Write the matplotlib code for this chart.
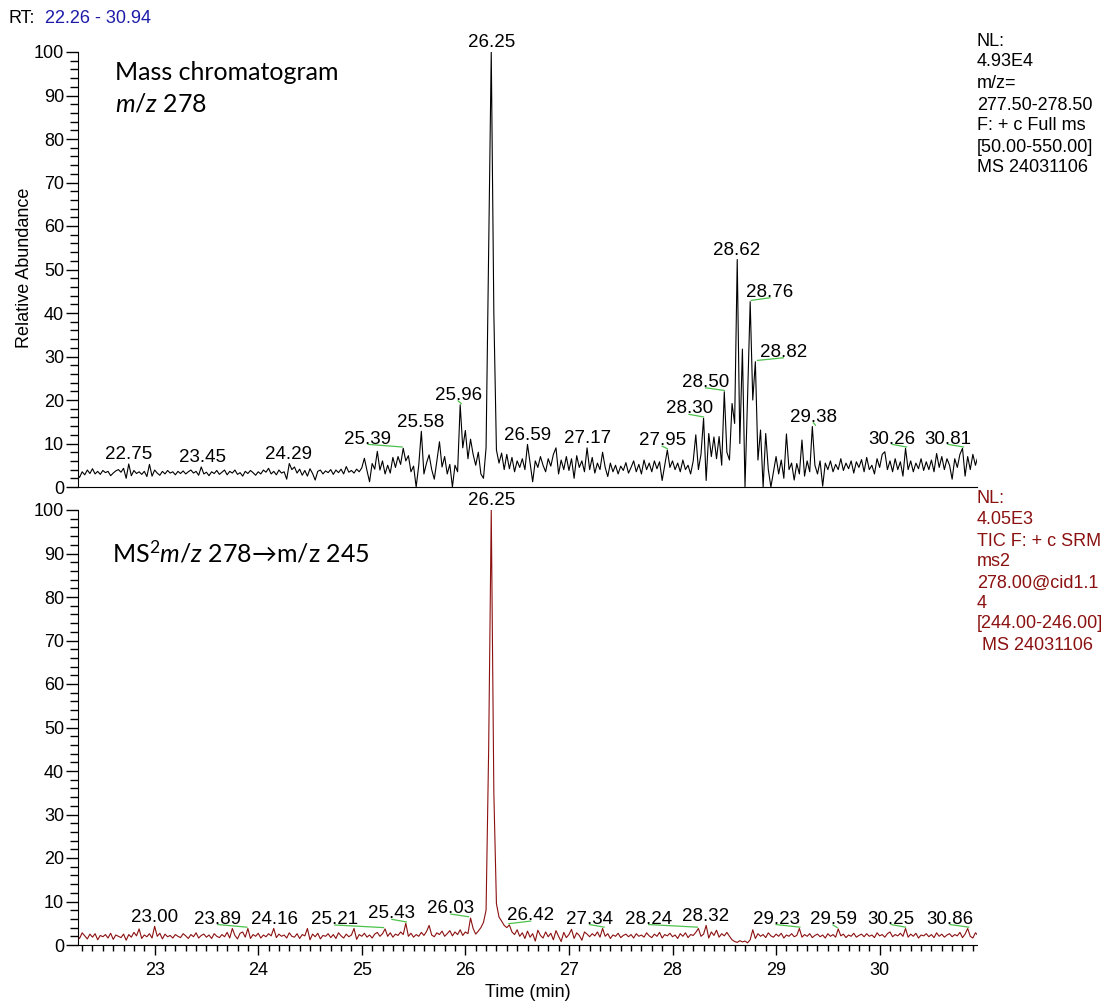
import numpy as np
import matplotlib
matplotlib.use("Agg")
import matplotlib.pyplot as plt
from matplotlib.ticker import MultipleLocator

plt.rcParams["font.family"] = ["Liberation Sans", "DejaVu Sans"]
plt.rcParams["mathtext.fontset"] = "custom"
plt.rcParams["mathtext.rm"] = "Lato"
plt.rcParams["mathtext.it"] = "Lato:italic"

# scan grid of the two traces (min)
T_START = 22.25
T_STEP = 0.025

# relative abundance, m/z 278 full scan (upper trace)
upper_vals = [
    3.0, 2.2, 3.5, 2.8, 3.9, 3.1, 4.2, 3.0, 3.6, 2.9,
    3.8, 3.3, 3.6, 2.6, 3.2, 3.7, 4.0, 3.4, 4.3, 2.0,
    5.3, 2.6, 3.8, 3.1, 3.5, 2.9, 3.6, 2.4, 5.2, 2.5,
    3.9, 3.2, 2.7, 3.6, 3.0, 3.8, 3.2, 3.5, 2.8, 3.6,
    3.1, 3.7, 3.0, 3.5, 3.9, 3.2, 3.6, 2.7, 4.6, 3.0,
    3.4, 2.6, 3.5, 3.1, 3.8, 2.9, 3.4, 3.9, 2.8, 3.6,
    3.2, 3.9, 2.9, 3.3, 2.5, 3.6, 3.1, 3.8, 3.3, 2.7,
    3.5, 3.0, 3.9, 3.4, 4.3, 3.0, 3.6, 2.8, 3.9, 3.2,
    3.5, 1.8, 5.4, 4.0, 4.6, 3.2, 4.1, 2.7, 3.8, 2.5,
    4.2, 3.1, 1.6, 3.6, 3.9, 3.0, 3.7, 3.3, 4.0, 2.9,
    3.9, 3.3, 4.1, 3.0, 4.7, 3.4, 3.8, 3.2, 4.1, 3.5,
    4.4, 6.6, 3.8, 1.2, 5.4, 4.1, 8.2, 3.9, 6.0, 3.0,
    5.0, 3.2, 6.8, 4.5, 7.0, 5.2, 8.9, 6.0, 7.2, 3.5,
    4.8, 0.0, 5.0, 12.8, 3.0, 5.5, 7.4, 4.0, 1.8, 6.0,
    10.4, 4.6, 7.0, 3.0, 5.2, 0.0, 5.0, 3.5, 18.9, 9.0,
    13.0, 6.5, 11.0, 7.5, 5.0, 8.0, 3.0, 2.0, 9.0, 55.0,
    100.0, 40.0, 8.5, 5.5, 7.8, 4.0, 7.5, 4.2, 6.8, 3.5,
    6.0, 4.5, 6.5, 4.0, 9.8, 5.5, 1.2, 6.0, 4.5, 7.0,
    5.0, 3.5, 6.5, 4.8, 7.5, 9.0, 3.0, 6.2, 4.0, 7.0,
    3.8, 6.5, 2.0, 7.2, 4.5, 6.0, 3.5, 9.0, 4.0, 6.8,
    3.2, 5.5, 4.0, 8.0, 4.5, 2.4, 5.5, 3.5, 5.0, 3.0,
    4.8, 3.8, 5.6, 3.2, 4.5, 6.0, 3.5, 5.2, 3.0, 6.2,
    4.0, 5.5, 3.5, 6.0, 4.2, 5.8, 1.5, 5.0, 8.5, 4.5,
    6.0, 4.0, 5.5, 3.5, 6.2, 4.0, 5.0, 3.0, 6.0, 12.0,
    4.0, 7.5, 15.8, 1.5, 12.3, 7.0, 11.5, 6.5, 11.6, 5.0,
    21.9, 8.0, 6.2, 19.2, 14.6, 52.3, 10.0, 31.7, 0.0, 20.8,
    42.6, 20.0, 28.8, 6.2, 13.1, 0.0, 12.3, 4.0, 0.0, 3.5,
    7.0, 3.0, 6.2, 2.0, 12.2, 4.0, 5.5, 1.6, 5.4, 3.0,
    10.8, 2.5, 6.0, 3.5, 13.9, 5.0, 3.0, 6.0, 0.2, 5.5,
    4.0, 6.0, 3.5, 5.2, 4.0, 6.5, 3.8, 5.5, 4.2, 6.0,
    3.2, 5.8, 4.5, 6.3, 3.5, 6.8, 4.0, 5.0, 3.0, 6.5,
    4.5, 7.5, 8.1, 4.0, 6.0, 3.5, 6.5, 4.0, 5.8, 2.5,
    8.9, 4.0, 6.0, 3.5, 5.5, 4.2, 6.5, 3.8, 5.8, 4.0,
    6.2, 3.5, 7.7, 4.5, 7.0, 4.0, 6.5, 5.0, 1.8, 6.5,
    4.5, 7.5, 8.9, 2.5, 7.0, 4.0, 7.5, 5.0, 7.1,
]

# relative abundance, SRM 278 -> 245 (lower trace)
lower_vals = [
    2.0, 1.5, 2.8, 2.1, 1.4, 2.5, 1.8, 2.6, 1.2, 2.2,
    1.9, 2.4, 1.6, 2.7, 1.3, 2.3, 2.0, 1.7, 2.5, 1.1,
    2.4, 1.8, 2.9, 2.1, 3.7, 1.5, 2.3, 1.9, 2.6, 1.6,
    4.3, 2.0, 2.7, 1.4, 2.5, 1.9, 2.2, 1.6, 2.4, 2.0,
    1.7, 2.6, 2.1, 1.5, 2.4, 1.9, 2.8, 1.6, 2.2, 2.5,
    1.8, 2.3, 1.5, 2.6, 2.0, 1.7, 2.4, 1.9, 2.9, 1.6,
    3.8, 2.2, 1.4, 2.7, 3.0, 1.8, 3.8, 1.5, 2.4, 2.0,
    2.7, 1.6, 2.3, 1.9, 2.6, 2.1, 3.8, 1.7, 2.5, 2.0,
    2.3, 1.6, 2.8, 2.0, 1.8, 2.6, 1.5, 2.4, 2.1, 3.8,
    1.2, 2.5, 1.9, 2.7, 1.4, 2.2, 2.0, 2.6, 1.7, 2.4,
    1.5, 2.8, 2.1, 1.6, 2.5, 1.9, 2.3, 3.8, 1.3, 2.4,
    2.0, 2.7, 1.8, 2.3, 1.6, 2.5, 2.9, 2.0, 2.6, 3.7,
    2.0, 2.8, 1.8, 2.5, 2.2, 3.0, 2.4, 5.0, 2.0, 2.7,
    1.8, 2.4, 2.0, 2.9, 2.2, 3.1, 4.5, 2.3, 1.9, 2.8,
    2.4, 3.2, 2.0, 2.6, 3.3, 2.1, 3.0, 2.4, 3.5, 2.2,
    3.0, 2.6, 6.2, 3.8, 2.5, 3.2, 4.0, 5.2, 8.0, 45.0,
    100.0, 35.0, 9.5, 6.4, 5.5, 4.5, 4.0, 4.6, 3.0, 2.4,
    3.5, 2.0, 2.8, 1.5, 3.2, 1.8, 2.6, 0.9, 3.4, 2.2,
    1.6, 3.0, 1.9, 2.7, 1.2, 3.3, 2.0, 0.8, 2.9, 1.7,
    2.4, 3.6, 1.5, 2.8, 2.2, 1.1, 3.0, 2.5, 1.9, 2.6,
    2.1, 3.0, 1.8, 3.8, 2.0, 2.6, 1.5, 2.3, 2.0, 2.7,
    1.7, 2.2, 2.5, 1.9, 2.4, 1.6, 2.6, 2.0, 2.3, 1.8,
    2.8, 2.1, 1.7, 2.5, 2.0, 2.9, 1.6, 2.4, 2.1, 2.7,
    1.9, 2.3, 1.5, 2.6, 2.0, 2.8, 1.7, 2.4, 2.2, 2.9,
    3.8, 2.0, 2.5, 4.5, 1.6, 3.0, 2.2, 3.4, 1.8, 2.6,
    2.1, 2.9, 2.0, 1.2, 0.8, 0.6, 1.0, 0.7, 0.9, 0.5,
    1.2, 3.5, 1.5, 2.6, 2.0, 2.4, 1.7, 2.8, 2.1, 1.8,
    2.5, 2.0, 2.7, 1.6, 2.3, 2.0, 2.6, 1.9, 2.2, 3.8,
    1.8, 2.4, 2.0, 2.6, 1.7, 2.2, 2.5, 1.9, 2.3, 1.6,
    2.6, 2.0, 2.4, 1.8, 3.7, 2.1, 2.5, 1.7, 2.3, 2.0,
    2.7, 1.8, 2.2, 2.5, 1.9, 2.6, 2.0, 2.3, 1.7, 2.8,
    2.1, 2.4, 1.8, 2.6, 3.0, 1.9, 2.4, 2.1, 2.7, 2.0,
    3.8, 1.8, 2.5, 2.0, 2.7, 1.6, 2.3, 2.1, 2.6, 1.9,
    2.4, 1.7, 2.8, 2.0, 2.5, 1.8, 2.3, 2.6, 1.9, 2.4,
    2.1, 2.9, 1.7, 2.5, 3.8, 2.0, 1.6, 2.8, 2.2,
]

# labelled peaks (retention times as printed)
upper_peaks = ["22.75", "23.45", "24.29", "25.39", "25.58", "25.96", "26.25",
               "26.59", "27.17", "27.95", "28.30", "28.50", "28.62", "28.76",
               "28.82", "29.38", "30.26", "30.81"]
lower_peaks = ["23.00", "23.89", "24.16", "25.21", "25.43", "26.03", "26.25",
               "26.42", "27.34", "28.24", "28.32", "29.23", "29.59", "30.25",
               "30.86"]

# where the label text sits on the time axis (shifted ones get a green leader)
upper_label_x = [22.75, 23.46, 24.29, 25.06, 25.57, 25.93, 26.25, 26.60, 27.18,
                 27.90, 28.16, 28.32, 28.62, 28.94, 29.07, 29.36, 30.12, 30.66]
lower_label_x = [23.00, 23.61, 24.16, 24.74, 25.29, 25.86, 26.25, 26.63, 27.20,
                 27.77, 28.32, 29.00, 29.55, 30.11, 30.68]

upper_info = ["NL:", "4.93E4", "m/z=", "277.50-278.50", "F: + c Full ms",
              "[50.00-550.00]", "MS 24031106"]
upper_info_y = [41, 62, 84, 105, 126, 148, 168]
lower_info = ["NL:", "4.05E3", "TIC F: + c SRM", "ms2", "278.00@cid1.1", "4",
              "[244.00-246.00]", " MS 24031106"]
lower_info_y = [498, 519, 542, 562, 583, 603, 624, 645]

W, H = 1103, 1001
RED = "#8b1010"
GREEN = "#4cc24c"


def fx(px):
    return px / W


def fy(py):
    return 1 - py / H


def style_axis(ax):
    ax.set_xlim(22.26, 30.94)
    ax.set_ylim(0, 100)
    for s in ["top", "right"]:
        ax.spines[s].set_visible(False)
    ax.yaxis.set_major_locator(MultipleLocator(10))
    ax.yaxis.set_minor_locator(MultipleLocator(2))
    ax.tick_params(axis="y", which="major", length=9, width=1, labelsize=13, pad=1)
    ax.tick_params(axis="y", which="minor", length=6, width=1)


def label_peaks(ax, t, y, peaks, label_x):
    for name, lx in zip(peaks, label_x):
        pt = float(name)
        win = np.abs(t - pt) <= 0.03
        top = y[win].max()
        ax.text(lx, top + 1.1, name, ha="center", va="baseline", fontsize=13.5,
                clip_on=False)
        if abs(lx - pt) > 0.015:
            ax.plot([lx, pt], [top + 0.9, top + 0.3], color=GREEN, lw=0.9,
                    clip_on=False)


t = T_START + T_STEP * np.arange(len(upper_vals))
y_up = np.array(upper_vals)
y_lo = np.array(lower_vals)

fig = plt.figure(figsize=(W / 100, H / 100), dpi=100)
ax1 = fig.add_axes([fx(78), fy(487), fx(977) - fx(78), fy(52) - fy(487)])
ax2 = fig.add_axes([fx(78), fy(945), fx(977) - fx(78), fy(510) - fy(945)])

ax1.plot(t, y_up, color="black", lw=0.8)
style_axis(ax1)
ax1.set_xticks([])
label_peaks(ax1, t, y_up, upper_peaks, upper_label_x)

ax2.plot(t, y_lo, color=RED, lw=0.8)
style_axis(ax2)
ax2.xaxis.set_major_locator(MultipleLocator(1))
ax2.xaxis.set_minor_locator(MultipleLocator(0.1))
ax2.tick_params(axis="x", which="major", length=7, width=1, labelsize=13, pad=5)
ax2.tick_params(axis="x", which="minor", length=4, width=1)
ax2.set_xlabel("Time (min)", fontsize=13, labelpad=4)
label_peaks(ax2, t, y_lo, lower_peaks, lower_label_x)

# header and side notes
fig.text(fx(8), fy(18), "RT:", fontsize=13, va="center")
fig.text(fx(45), fy(18), "22.26 - 30.94", fontsize=13, va="center", color="#1c1ca8")
fig.text(fx(25), fy(268), "Relative Abundance", fontsize=13, rotation=90,
         ha="center", va="center")
for s, py in zip(upper_info, upper_info_y):
    fig.text(fx(977), fy(py), s, fontsize=13, va="center")
for s, py in zip(lower_info, lower_info_y):
    fig.text(fx(977), fy(py), s, fontsize=13, va="center", color=RED)

fig.text(fx(115), fy(72), "Mass chromatogram", fontsize=18, va="center",
         family=["Lato", "DejaVu Sans"])
fig.text(fx(115), fy(104), r"$\mathit{m/z}$ 278", fontsize=18, va="center",
         family=["Lato", "DejaVu Sans"])
fig.text(fx(112), fy(553), r"$\mathrm{MS}^{2}\mathit{m/z}$ 278→m/z 245",
         fontsize=18, va="center", family=["Lato", "DejaVu Sans"])

fig.savefig("out.png", dpi=100)
